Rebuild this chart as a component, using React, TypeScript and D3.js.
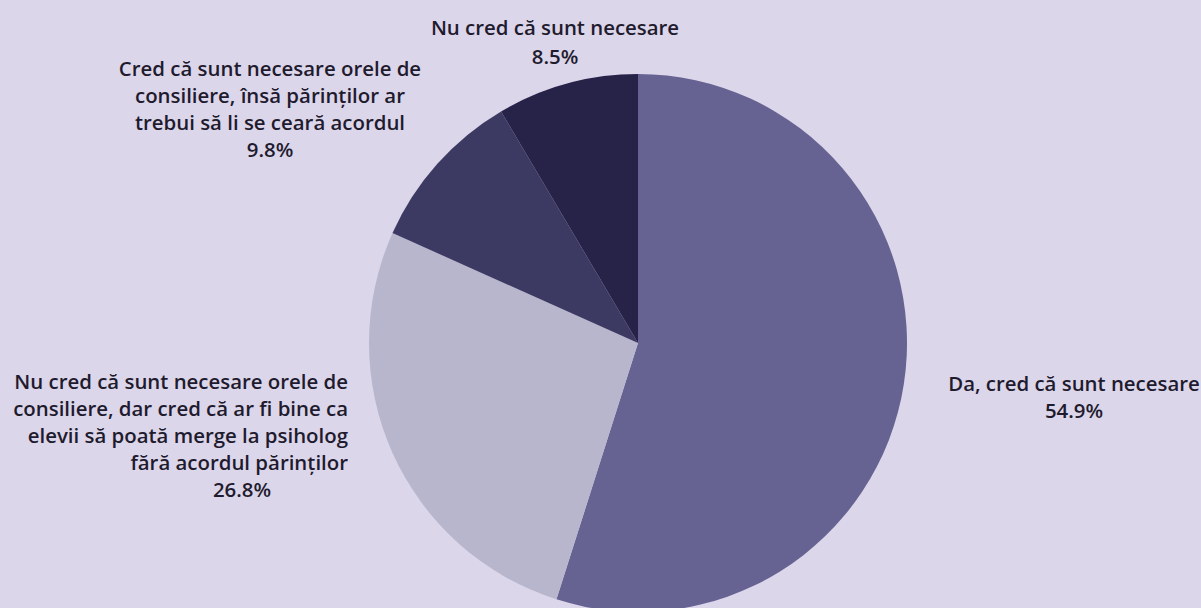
import React, { useEffect, useRef } from "react";
import * as d3 from "d3";

// date
const categories = [
  "Da, cred că sunt necesare",
  "Nu cred că sunt necesare orele de consiliere, dar cred că ar fi bine ca elevii să poată merge la psiholog fără acordul părinților",
  "Cred că sunt necesare orele de consiliere, însă părinților ar trebui să li se ceară acordul",
  "Nu cred că sunt necesare",
];
const values = [54.9, 26.8, 9.8, 8.5];
const valueLabels = ["54.9%", "26.8%", "9.8%", "8.5%"];
const colors = ["#666393", "#b8b6cd", "#3c3a62", "#272248"];

// randuri de text pentru etichete (impartite ca in original)
const labelLines = [
  ["Da, cred că sunt necesare"],
  [
    "Nu cred că sunt necesare orele de",
    "consiliere, dar cred că ar fi bine ca",
    "elevii să poată merge la psiholog",
    "fără acordul părinților",
  ],
  [
    "Cred că sunt necesare orele de",
    "consiliere, însă părinților ar",
    "trebui să li se ceară acordul",
  ],
  ["Nu cred că sunt necesare"],
];

// pozitia etichetelor (layout)
const labelLayout = [
  { x: 1074, y: 383, anchor: "middle", pctX: 1074 },
  { x: 348, y: 381, anchor: "end", pctX: 242 },
  { x: 270, y: 68, anchor: "middle", pctX: 270 },
  { x: 555, y: 27, anchor: "middle", pctX: 555 },
];

const App = () => {
  const ref = useRef<SVGSVGElement>(null);

  useEffect(() => {
    const width = 1201;
    const height = 608;
    const cx = 638;
    const cy = 343;
    const radius = 269;
    const lineH = 27;

    const svg = d3.select(ref.current);
    svg.selectAll("*").remove();

    svg
      .append("rect")
      .attr("width", width)
      .attr("height", height)
      .attr("fill", "#dcd6ea");

    const pie = d3
      .pie<number>()
      .sort(null)
      .value((d) => d);
    const arc = d3
      .arc<d3.PieArcDatum<number>>()
      .innerRadius(0)
      .outerRadius(radius);

    const g = svg.append("g").attr("transform", `translate(${cx}, ${cy})`);
    g.selectAll("path")
      .data(pie(values))
      .enter()
      .append("path")
      .attr("d", arc)
      .attr("fill", (d, i) => colors[i]);

    // etichete
    const labels = svg
      .append("g")
      .attr("font-family", "'Open Sans', sans-serif")
      .attr("font-weight", 600)
      .attr("font-size", 20.4)
      .attr("fill", "#1f1b2e");

    categories.forEach((c, i) => {
      const lay = labelLayout[i];
      const lines = labelLines[i];
      const t = labels
        .append("text")
        .attr("text-anchor", lay.anchor)
        .attr("dominant-baseline", "central");
      lines.forEach((line, j) => {
        t.append("tspan")
          .attr("x", lay.x)
          .attr("y", lay.y + j * lineH)
          .text(line);
      });
      labels
        .append("text")
        .attr("text-anchor", "middle")
        .attr("dominant-baseline", "central")
        .attr("x", lay.pctX)
        .attr("y", lay.y + lines.length * lineH + (i === 3 ? 2 : 0))
        .text(valueLabels[i]);
    });
  }, []);

  return (
    <div>
      <svg
        ref={ref}
        width={1201}
        height={608}
        style={{ position: "absolute", left: 0, top: 0 }}
      />
    </div>
  );
};

export default App;
